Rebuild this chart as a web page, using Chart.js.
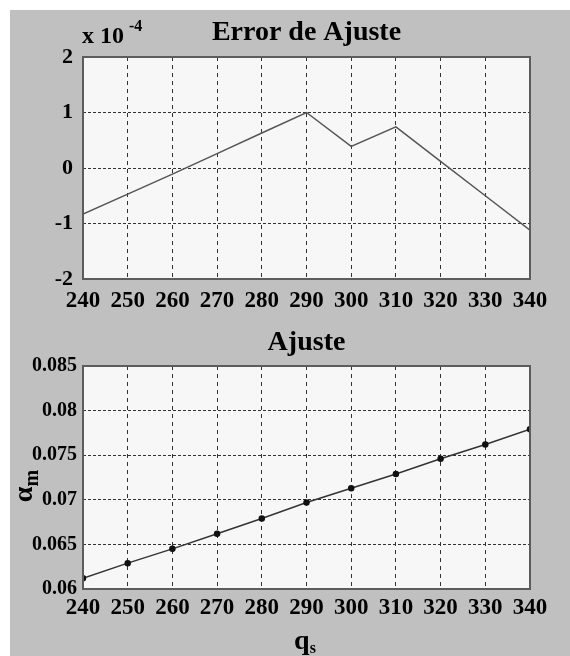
<!DOCTYPE html>
<html>
<head>
<meta charset="utf-8">
<script src="https://cdn.jsdelivr.net/npm/chart.js@4.4.1/dist/chart.umd.min.js"></script>
<style>
    html, body { margin: 0; padding: 0; background: #fff; }
    #page { position: relative; width: 570px; height: 656px; overflow: hidden; }
    #panel { position: absolute; left: 10px; top: 10px; right: 0; bottom: 0; background: #c0c0c0; }
    canvas { position: absolute; left: 0; }
    #errorChart { top: 0; }
    #fitChart { top: 320px; }
    .lbl { position: absolute; font-family: 'Liberation Serif', serif; font-weight: bold; color: #000; white-space: nowrap; line-height: 1; }
</style>
</head>
<body>
<div id="page">
    <div id="panel"></div>
    <canvas id="errorChart" width="570" height="320"></canvas>
    <canvas id="fitChart" width="570" height="336"></canvas>

    <div class="lbl" style="left:82px; top:23px; font-size:24px;">x 10<span style="font-size:16px; position:relative; top:-12px; margin-left:5px;">-4</span></div>
    <div class="lbl" style="left:-8px; top:471px; width:64px; height:30px; text-align:center; font-size:28px; transform:rotate(-90deg);">&alpha;<span style="font-size:20px; position:relative; top:6px;">m</span></div>
    <div class="lbl" style="left:270px; top:626px; width:70px; text-align:center; font-size:28px;">q<span style="font-size:16px; position:relative; top:4px;">s</span></div>
</div>

<script>
// q_s values (x axis, shared by both panels)
const qs = [240, 250, 260, 270, 280, 290, 300, 310, 320, 330, 340];

// fit error, in units of 1e-4
const errorVals = [-0.83, -0.47, -0.11, 0.26, 0.63, 1.0, 0.39, 0.74, 0.12, -0.50, -1.12];

// alpha_m values
const alphaVals = [0.0612, 0.0629, 0.0645, 0.0662, 0.0679, 0.0697, 0.0713, 0.0729, 0.0746, 0.0762, 0.0779];

const FONT = "'Liberation Serif', 'Times New Roman', serif";

// plot face + box frame around the chart area
const framePlugin = {
    id: 'frame',
    beforeDraw(chart) {
        const { ctx, chartArea: a } = chart;
        ctx.save();
        ctx.fillStyle = '#f7f7f7';
        ctx.fillRect(a.left, a.top, a.right - a.left, a.bottom - a.top);
        ctx.restore();
    },
    afterDraw(chart) {
        const { ctx, chartArea: a } = chart;
        ctx.save();
        ctx.strokeStyle = '#5c5c5c';
        ctx.lineWidth = 2;
        ctx.strokeRect(a.left, a.top, a.right - a.left, a.bottom - a.top);
        ctx.restore();
    }
};

function points(ys) {
    return qs.map((q, i) => ({ x: q, y: ys[i] }));
}

function baseOptions(cfg) {
    return {
        responsive: false,
        animation: false,
        layout: { padding: { left: 0, right: 40, top: 0, bottom: 0 } },
        plugins: {
            legend: { display: false },
            tooltip: { enabled: false },
            title: {
                display: true,
                text: cfg.title,
                fullSize: false,
                color: '#000',
                font: { family: FONT, size: 28, weight: 'bold' },
                padding: cfg.titlePadding
            }
        },
        scales: {
            x: {
                type: 'linear',
                min: 240,
                max: 340,
                afterFit: (s) => { s.height = cfg.xHeight; },
                ticks: {
                    stepSize: 10,
                    color: '#000',
                    padding: cfg.xPad,
                    maxRotation: 0,
                    autoSkip: false,
                    font: { family: FONT, size: 23, weight: 'bold' }
                },
                grid: { color: '#333', lineWidth: 1, drawTicks: false },
                border: { display: false, dash: [4, 4] }
            },
            y: {
                min: cfg.yMin,
                max: cfg.yMax,
                afterFit: (s) => { s.width = 83; },
                ticks: {
                    stepSize: cfg.yStep,
                    color: '#000',
                    padding: cfg.yPad,
                    font: { family: FONT, size: cfg.yFont, weight: 'bold' },
                    callback: cfg.yFormat
                },
                grid: { color: '#333', lineWidth: 1, drawTicks: false },
                border: { display: false, dash: [3, 2] }
            }
        }
    };
}

new Chart(document.getElementById('errorChart'), {
    type: 'line',
    data: {
        datasets: [{
            data: points(errorVals),
            borderColor: '#555',
            borderWidth: 1.5,
            pointRadius: 0,
            tension: 0
        }]
    },
    options: baseOptions({
        title: 'Error de Ajuste',
        titlePadding: { top: 16.2, bottom: 7.2 },
        xHeight: 41,
        xPad: 8,
        yMin: -2,
        yMax: 2,
        yStep: 1,
        yPad: 10,
        yFont: 22,
        yFormat: (v) => String(v)
    }),
    plugins: [framePlugin]
});

new Chart(document.getElementById('fitChart'), {
    type: 'line',
    data: {
        datasets: [{
            data: points(alphaVals),
            borderColor: '#333',
            borderWidth: 1.5,
            pointRadius: 2.5,
            pointBackgroundColor: '#111',
            pointBorderColor: '#111',
            tension: 0
        }]
    },
    options: baseOptions({
        title: 'Ajuste',
        titlePadding: { top: 6.2, bottom: 6.2 },
        xHeight: 67,
        xPad: 5,
        yMin: 0.06,
        yMax: 0.085,
        yStep: 0.005,
        yPad: 6,
        yFont: 20,
        yFormat: (v) => String(+v.toFixed(3))
    }),
    plugins: [framePlugin]
});
</script>
</body>
</html>
